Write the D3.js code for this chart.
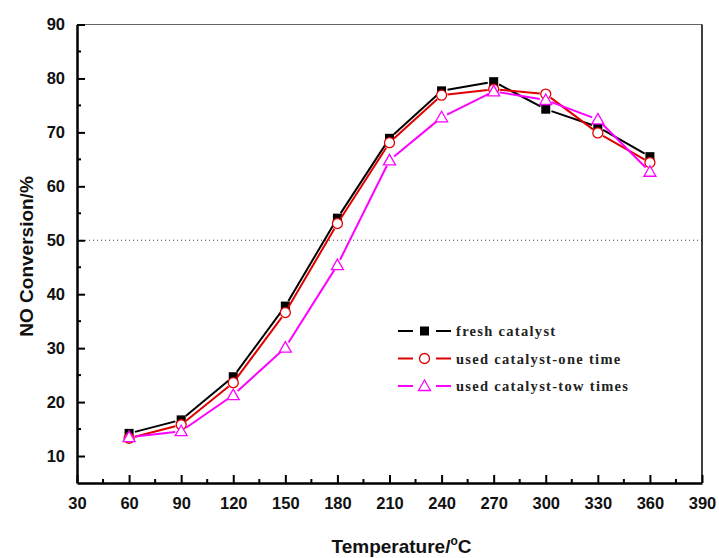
<!DOCTYPE html>
<html>
<head>
<meta charset="utf-8">
<script src="https://cdn.jsdelivr.net/npm/d3@7"></script>
<style>
  body { margin: 0; background: #fff; }
  svg { display: block; }
</style>
</head>
<body>
<div id="graph"></div>
<script>
// data
var temps = [60, 90, 120, 150, 180, 210, 240, 270, 300, 330, 360];
var fresh = [14.2, 16.7, 24.7, 37.8, 54.1, 68.9, 77.7, 79.4, 74.3, 71.0, 65.5];
var usedOnce = [13.3, 15.8, 23.6, 36.6, 53.1, 68.1, 76.9, 78.0, 77.1, 69.9, 64.4];
var usedTwice = [13.5, 14.6, 21.3, 30.1, 45.4, 64.8, 72.8, 77.6, 76.0, 72.4, 62.7];
var seriesNames = ["fresh catalyst", "used catalyst-one time", "used catalyst-tow times"];
var xTicks = [30, 60, 90, 120, 150, 180, 210, 240, 270, 300, 330, 360, 390];
var yTicks = [10, 20, 30, 40, 50, 60, 70, 80, 90];
var refLine = 50;

var W = 719, H = 558;
var margin = { top: 24.5, right: 17, bottom: 75, left: 77 },
    width  = W - margin.left - margin.right,
    height = H - margin.top  - margin.bottom;

var svg = d3.select("#graph")
  .append("svg")
    .attr("width", W)
    .attr("height", H)
  .append("g")
    .attr("transform", `translate(${margin.left}, ${margin.top})`);

var x = d3.scaleLinear().domain([30, 390]).range([0, width]);
var y = d3.scaleLinear().domain([5, 90]).range([height, 0]);

var series = [
  { name: seriesNames[0], values: fresh, color: "#000000", marker: "square" },
  { name: seriesNames[1], values: usedOnce, color: "#e00000", marker: "circle" },
  { name: seriesNames[2], values: usedTwice, color: "#ff00ff", marker: "triangle" }
];

// dotted 50% line
svg.append("line")
  .attr("x1", 0).attr("x2", width)
  .attr("y1", y(refLine)).attr("y2", y(refLine))
  .attr("stroke", "#444")
  .attr("stroke-width", 1)
  .attr("stroke-dasharray", "1,3");

// frame: top + right thinner
svg.append("line")
  .attr("x1", 0).attr("x2", width).attr("y1", 0).attr("y2", 0)
  .attr("stroke", "#666").attr("stroke-width", 1.2);
svg.append("line")
  .attr("x1", width).attr("x2", width).attr("y1", 0).attr("y2", height)
  .attr("stroke", "#000").attr("stroke-width", 1.5);

// axes (ticks inward)
var minorX = d3.range(45, 390, 30);
var minorY = d3.range(15, 90, 10);

var xAxisG = svg.append("g").attr("transform", `translate(0, ${height})`);
xAxisG.call(d3.axisBottom(x).tickValues(xTicks).tickSize(-8).tickSizeOuter(0).tickPadding(14));
xAxisG.append("g").selectAll("line").data(minorX).enter().append("line")
  .attr("x1", d => x(d)).attr("x2", d => x(d)).attr("y1", 0).attr("y2", -4)
  .attr("stroke", "#000").attr("stroke-width", 2);

var yAxisG = svg.append("g");
yAxisG.call(d3.axisLeft(y).tickValues(yTicks).tickSize(-8).tickSizeOuter(0).tickPadding(12));
yAxisG.append("g").selectAll("line").data(minorY).enter().append("line")
  .attr("x1", 0).attr("x2", 4).attr("y1", d => y(d)).attr("y2", d => y(d))
  .attr("stroke", "#000").attr("stroke-width", 2);

[xAxisG, yAxisG].forEach(function(g) {
  g.select(".domain").attr("stroke", "#000").attr("stroke-width", 2.5);
  g.selectAll(".tick line").attr("stroke", "#000").attr("stroke-width", 2);
  g.selectAll("text")
    .attr("fill", "#111")
    .style("font-family", "'Liberation Sans', Arial, sans-serif")
    .style("font-size", "16.5px")
    .style("font-weight", "bold");
});

// axis titles
var xTitle = svg.append("text")
  .attr("text-anchor", "middle")
  .attr("x", width / 2 + 12)
  .attr("y", height + 70)
  .style("font-family", "'Liberation Sans', Arial, sans-serif")
  .style("font-size", "19px")
  .style("font-weight", "bold")
  .attr("fill", "#111");
xTitle.append("tspan").text("Temperature/");
xTitle.append("tspan").attr("dy", -8).style("font-size", "12px").text("o");
xTitle.append("tspan").attr("dy", 8).text("C");

svg.append("text")
  .attr("text-anchor", "middle")
  .attr("transform", `translate(${-margin.left + 33}, ${y(47)}) rotate(-90)`)
  .style("font-family", "'Liberation Sans', Arial, sans-serif")
  .style("font-size", "19px")
  .style("font-weight", "bold")
  .attr("fill", "#111")
  .text("NO Conversion/%");

// marker helper
function drawMarker(g, type, cx, cy, color) {
  if (type === "square") {
    g.append("rect")
      .attr("x", cx - 4.5).attr("y", cy - 4.5)
      .attr("width", 9).attr("height", 9)
      .attr("fill", color);
  } else if (type === "circle") {
    g.append("circle")
      .attr("cx", cx).attr("cy", cy).attr("r", 5)
      .attr("fill", "#fff").attr("stroke", color).attr("stroke-width", 1.3);
  } else {
    g.append("path")
      .attr("d", `M${cx},${cy - 6}L${cx + 6},${cy + 4.5}L${cx - 6},${cy + 4.5}Z`)
      .attr("fill", "#fff").attr("stroke", color).attr("stroke-width", 1.3);
  }
}

// lines with small gaps at markers, Origin-style
var gap = 6;
series.forEach(function(s) {
  var g = svg.append("g");
  var pts = temps.map((t, i) => [x(t), y(s.values[i])]);
  for (var i = 0; i < pts.length - 1; i++) {
    var a = pts[i], b = pts[i + 1];
    var dx = b[0] - a[0], dy = b[1] - a[1];
    var len = Math.sqrt(dx * dx + dy * dy);
    var ux = dx / len, uy = dy / len;
    g.append("line")
      .attr("x1", a[0] + ux * gap).attr("y1", a[1] + uy * gap)
      .attr("x2", b[0] - ux * gap).attr("y2", b[1] - uy * gap)
      .attr("stroke", s.color)
      .attr("stroke-width", 2);
  }
  pts.forEach(p => drawMarker(g, s.marker, p[0], p[1], s.color));
});

// legend
var legend = svg.append("g")
  .attr("transform", `translate(${398 - margin.left}, ${331 - margin.top})`);
series.forEach(function(s, i) {
  var row = legend.append("g").attr("transform", `translate(0, ${i * 27.5})`);
  row.append("line").attr("x1", 0).attr("x2", 15).attr("y1", 0).attr("y2", 0)
    .attr("stroke", s.color).attr("stroke-width", 2);
  row.append("line").attr("x1", 38).attr("x2", 53).attr("y1", 0).attr("y2", 0)
    .attr("stroke", s.color).attr("stroke-width", 2);
  drawMarker(row, s.marker, 26.5, 0, s.color);
  row.append("text")
    .attr("x", 58)
    .attr("y", 5)
    .style("font-family", "'Liberation Serif', 'Times New Roman', serif")
    .style("font-size", "14.5px")
    .style("font-weight", "bold")
    .style("letter-spacing", "1.3px")
    .attr("fill", "#222")
    .text(s.name);
});
</script>
</body>
</html>
